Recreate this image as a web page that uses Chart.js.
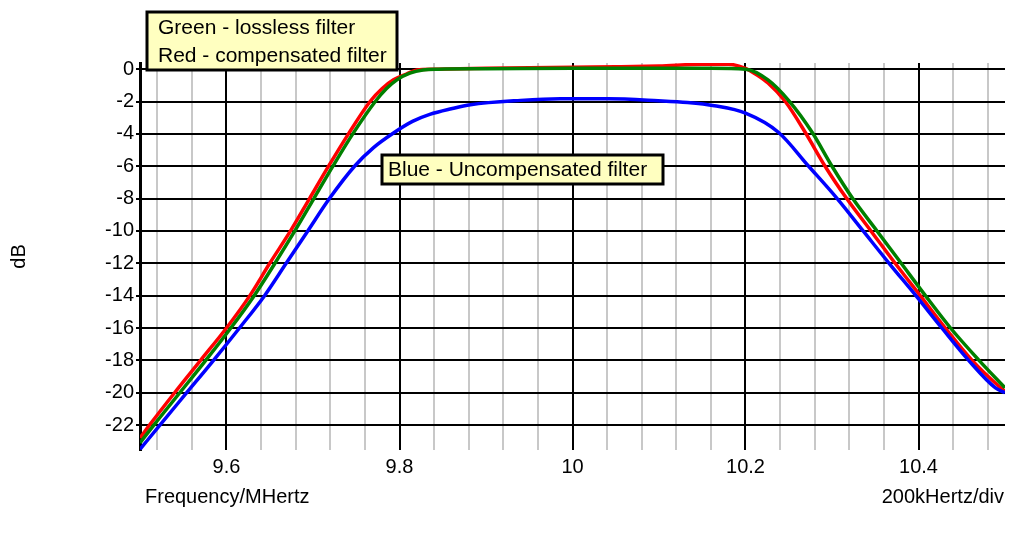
<!DOCTYPE html>
<html lang="en">
<head>
  <meta charset="UTF-8" />
  <title>Filter response</title>
  <style>
    body {
      margin: 0;
      background: #fff;
    }
    #chart-container {
      width: 1009px;
      height: 534px;
      position: relative;
    }
  </style>
</head>
<body>
  <div id="chart-container">
    <canvas id="filterChart"></canvas>
  </div>

  <script src="https://cdn.jsdelivr.net/npm/chart.js"></script>
  <script>
    // values (MHz, dB)
    const greenFreq = [9.5, 9.516, 9.546, 9.576, 9.605, 9.632, 9.656, 9.679, 9.701, 9.723, 9.746, 9.772, 9.785, 9.797, 9.812, 9.827, 9.845, 9.9, 10.0, 10.1, 10.16, 10.2, 10.226, 10.251, 10.277, 10.3, 10.324, 10.352, 10.38, 10.408, 10.437, 10.47, 10.5];
    const greenDb   = [-23.1, -22, -20, -18, -16, -14, -12, -10, -8, -6, -4, -2, -1.2, -0.66, -0.25, -0.05, 0.0, 0.02, 0.05, 0.05, 0.05, 0.0, -0.66, -2, -3.9, -6, -8, -10, -12, -14, -16, -18, -19.7];

    const redFreq = [9.5, 9.511, 9.54, 9.57, 9.6, 9.627, 9.65, 9.674, 9.696, 9.718, 9.741, 9.766, 9.78, 9.793, 9.808, 9.82, 9.84, 9.9, 9.95, 10.0, 10.05, 10.1, 10.15, 10.18, 10.2, 10.213, 10.226, 10.246, 10.269, 10.292, 10.317, 10.345, 10.373, 10.402, 10.431, 10.462, 10.493, 10.5];
    const redDb   = [-22.8, -22, -20, -18, -16, -14, -12, -10, -8, -6, -4, -2, -1.2, -0.66, -0.3, -0.05, 0.0, 0.05, 0.08, 0.12, 0.15, 0.2, 0.3, 0.3, 0.05, -0.35, -0.86, -2, -3.9, -6, -8, -10, -12, -14, -16, -18, -19.6, -19.9];

    const blueFreq = [9.5, 9.523, 9.554, 9.585, 9.615, 9.644, 9.669, 9.694, 9.719, 9.748, 9.77, 9.793, 9.815, 9.835, 9.86, 9.882, 9.94, 9.986, 10.041, 10.099, 10.133, 10.164, 10.2, 10.238, 10.273, 10.306, 10.336, 10.366, 10.397, 10.427, 10.458, 10.489, 10.5];
    const blueDb   = [-23.5, -22, -20, -18, -16, -14, -12, -10, -8, -6, -4.85, -3.95, -3.23, -2.8, -2.45, -2.2, -1.93, -1.83, -1.83, -1.95, -2.06, -2.26, -2.72, -3.9, -6, -8, -10, -12, -14, -16, -18, -19.7, -20.0];

    const xLabels = [9.6, 9.8, 10, 10.2, 10.4];
    const yTicks = [0, -2, -4, -6, -8, -10, -12, -14, -16, -18, -20, -22];

    // vertical grid every 40 kHz, labelled every 200 kHz
    const xTicks = [];
    for (let i = 0; i <= 24; i++) {
      xTicks.push(Number((9.52 + 0.04 * i).toFixed(2)));
    }
    const isMajor = v => xLabels.some(m => Math.abs(m - v) < 1e-6);

    const toPoints = (fs, ds) => fs.map((f, i) => ({ x: f, y: ds[i] }));

    const FONT = '"Liberation Sans", Arial, sans-serif';

    const notes = {
      id: 'notes',
      afterDraw(chart) {
        const c = chart.ctx;
        c.save();
        // legend boxes
        c.fillStyle = '#ffffc0';
        c.strokeStyle = '#000';
        c.lineWidth = 3;
        c.fillRect(147, 12, 250, 58);
        c.strokeRect(147, 12, 250, 58);
        c.fillRect(382, 155, 281, 29);
        c.strokeRect(382, 155, 281, 29);

        c.fillStyle = '#000';
        c.textBaseline = 'middle';
        c.textAlign = 'left';
        c.font = '21px ' + FONT;
        c.fillText('Green - lossless filter', 158, 28);
        c.fillText('Red - compensated filter', 158, 56);
        c.fillText('Blue - Uncompensated filter', 388, 170);

        c.font = '20px ' + FONT;
        c.fillText('Frequency/MHertz', 145, 497);
        c.textAlign = 'right';
        c.fillText('200kHertz/div', 1004, 497);
        c.restore();
      }
    };

    const ctx = document.getElementById('filterChart').getContext('2d');
    new Chart(ctx, {
      type: 'line',
      data: {
        datasets: [
          {
            label: 'Blue - Uncompensated filter',
            data: toPoints(blueFreq, blueDb),
            borderColor: '#0000ff',
          },
          {
            label: 'Green - lossless filter',
            data: toPoints(greenFreq, greenDb),
            borderColor: '#008000',
          },
          {
            label: 'Red - compensated filter',
            data: toPoints(redFreq, redDb),
            borderColor: '#ff0000',
          }
        ]
      },
      options: {
        responsive: true,
        maintainAspectRatio: false,
        animation: false,
        layout: { padding: { top: 63, right: 4, left: 0, bottom: 0 } },
        elements: {
          line: { borderWidth: 3.5, cubicInterpolationMode: 'monotone', fill: false },
          point: { radius: 0, hoverRadius: 0 }
        },
        scales: {
          x: {
            type: 'linear',
            min: 9.5,
            max: 10.5,
            afterBuildTicks: scale => { scale.ticks = xTicks.map(v => ({ value: v })); },
            afterFit: scale => { scale.height = 84; },
            ticks: {
              autoSkip: false,
              maxRotation: 0,
              padding: 5,
              color: '#000',
              font: { family: FONT, size: 20 },
              callback: v => isMajor(v) ? String(v) : ''
            },
            grid: {
              drawTicks: false,
              color: c => isMajor(c.tick.value) ? '#000' : '#c8c8c8',
              lineWidth: 2
            },
            border: { display: false }
          },
          y: {
            min: -23.54,
            max: 0.38,
            afterBuildTicks: scale => { scale.ticks = yTicks.map(v => ({ value: v })); },
            afterFit: scale => { scale.width = 140; },
            title: {
              display: true,
              text: 'dB',
              color: '#000',
              font: { family: FONT, size: 20 },
              padding: { top: 7, bottom: 0 }
            },
            ticks: {
              padding: 2,
              color: '#000',
              font: { family: FONT, size: 20 },
              callback: v => String(v)
            },
            grid: {
              color: '#000',
              lineWidth: 2,
              tickLength: 4
            },
            border: { display: true, color: '#000', width: 3 }
          }
        },
        plugins: {
          legend: { display: false },
          tooltip: { enabled: false }
        }
      },
      plugins: [notes]
    });
  </script>
</body>
</html>
